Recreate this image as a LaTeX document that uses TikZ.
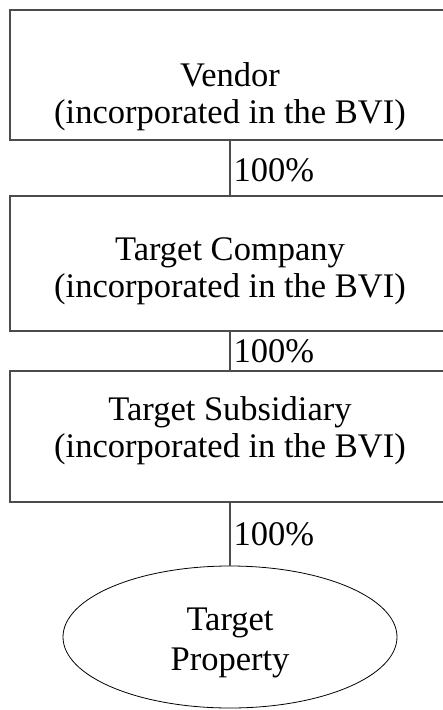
\documentclass[tikz,border=0pt]{standalone}
\usepackage{fontspec}
\setmainfont{Liberation Serif}
\usetikzlibrary{shapes.geometric}
\begin{document}
\begin{tikzpicture}[x=1pt,y=-1pt,
  every node/.style={font=\fontsize{34.5}{37}\selectfont},
  box/.style={draw=black!70, line width=1.3pt, rectangle, minimum width=440pt, inner sep=0pt},
  txt/.style={align=center, inner sep=0pt},
  ell/.style={draw=black, line width=0.8pt, ellipse, minimum width=334pt, minimum height=142pt, inner sep=0pt},
  link/.style={draw=black!70, line width=1.3pt},
  pct/.style={right, inner sep=3pt}]
\useasboundingbox (0,0) rectangle (443,710);
\clip (0,0) rectangle (443,710);
\node[box, minimum height=130pt] (v) at (230,75) {};
\node[txt] (vt) at (230,97) {Vendor\\(incorporated in the BVI)};
\node[box, minimum height=135pt] (c) at (230,263.5) {};
\node[txt] (ct) at (230,271) {Target Company\\(incorporated in the BVI)};
\node[box, minimum height=131pt] (s) at (230,436.5) {};
\node[txt] (st) at (230,431) {Target Subsidiary\\(incorporated in the BVI)};
\node[ell] (p) at (230,637) {};
\node[txt, font=\fontsize{34.5}{40}\selectfont] (pt) at (230,643) {Target\\Property};
\draw[link] (v.south) -- (c.north) node[midway, pct, yshift=-2pt] {100\%};
\draw[link] (c.south) -- (s.north) node[midway, pct] {100\%};
\draw[link] (s.south) -- (p.north) node[midway, pct] {100\%};
\end{tikzpicture}
\end{document}
